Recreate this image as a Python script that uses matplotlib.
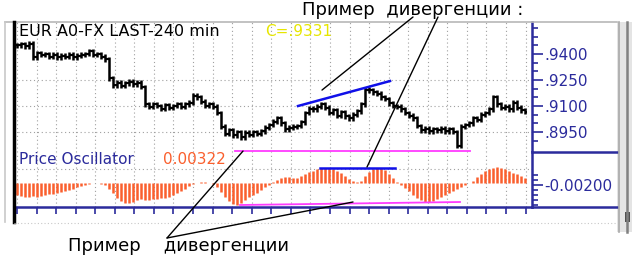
import numpy as np
import matplotlib
matplotlib.use("Agg")
import matplotlib.pyplot as plt
from matplotlib.patches import Rectangle

plt.rcParams['font.family'] = ['DejaVu Sans']

# цены закрытия по барам (в пунктах, x 1e-4), 240 мин
closes = [9450, 9455, 9445, 9460, 9380, 9405, 9395, 9400, 9385, 9395,
          9380, 9390, 9385, 9395, 9380, 9390, 9395, 9400, 9415, 9395,
          9400, 9385, 9370, 9260, 9220, 9235, 9215, 9230, 9240, 9225,
          9235, 9210, 9110, 9095, 9110, 9100, 9085, 9105, 9090, 9100,
          9110, 9095, 9110, 9120, 9160, 9150, 9125, 9100, 9110, 9095,
          9060, 8980, 8940, 8960, 8930, 8950, 8920, 8945, 8935, 8950,
          8940, 8955, 8975, 8990, 9010, 9030, 9000, 8965, 8975, 8980,
          8985, 9005, 9060, 9085, 9080, 9095, 9110, 9090, 9060, 9075,
          9045, 9065, 9040, 9030, 9050, 9070, 9110, 9195, 9190, 9180,
          9170, 9150, 9140, 9115, 9100, 9095, 9080, 9060, 9045, 9030,
          8985, 8960, 8970, 8955, 8965, 8960, 8970, 8955, 8965, 8950,
          8870, 8980, 8990, 9000, 9030, 9020, 9050, 9060, 9080, 9150,
          9110, 9090, 9095, 9080, 9120, 9090, 9075, 9065]

# Price Oscillator (x 1e-4), гистограмма от базового уровня
osc = [-40, -42, -44, -44, -42, -44, -42, -40, -38, -38,
       -36, -34, -32, -30, -28, -24, -22, -20, -18, -16,
       -16, -18, -20, -28, -36, -46, -52, -56, -56, -54,
       -50, -48, -50, -50, -48, -48, -46, -46, -44, -40,
       -36, -32, -28, -22, -18, -16, -14, -14, -16, -18,
       -24, -34, -44, -52, -58, -60, -56, -50, -44, -40,
       -36, -30, -24, -20, -14, -10, -6, -4, -4, -6,
       -6, -2, 2, 6, 8, 12, 14, 14, 14, 12,
       8, 4, -2, -8, -12, -14, -12, -2, 6, 12,
       14, 14, 10, 2, -6, -14, -20, -26, -32, -40,
       -46, -50, -54, -54, -52, -48, -44, -40, -36, -32,
       -28, -24, -20, -16, -12, -4, 2, 8, 12, 14,
       16, 14, 12, 8, 4, 2, -2, -6]
osc_base = -0.0016

price_ticks = [0.9400, 0.9250, 0.9100, 0.8950]
price_labels = ['.9400', '.9250', '.9100', '.8950']
osc_ticks = [-0.0020]
osc_labels = ['-0.00200']

# линии дивергенции: (бар, значение)
price_blue = ([70.25, 93.25], [0.9100, 0.9244])
price_pink = ([54.5, 113.25], [0.8840, 0.8840])
osc_blue = ([75.75, 94.5], [0.0014, 0.0014])
osc_pink = ([55.75, 110.75], [-0.0060, -0.0054])

W, H = 632, 259
def rect(x0, y0, x1, y1):
    return [x0 / W, 1 - y1 / H, (x1 - x0) / W, (y1 - y0) / H]

navy = '#2b2b9c'
orange = '#fa5f2d'

fig = plt.figure(figsize=(6.32, 2.59), dpi=100)
ax_p = fig.add_axes(rect(14, 22, 532, 152))
ax_o = fig.add_axes(rect(14, 152, 532, 207), sharex=ax_p)
ov = fig.add_axes([0, 0, 1, 1], zorder=5)
ov.set_xlim(0, W)
ov.set_ylim(H, 0)
ov.axis('off')
ov.patch.set_alpha(0)

n = len(closes)
x = np.arange(n)
c = np.array(closes) / 10000
o = np.r_[c[0], c[:-1]]
wick = 0.0014
hi = np.maximum(o, c) + wick
lo = np.minimum(o, c) - wick

ax_p.vlines(x, lo, hi, color='black', lw=1.8, zorder=3)
ax_p.hlines(o, x - 0.5, x, color='black', lw=1.6, zorder=3)
ax_p.hlines(c, x, x + 0.5, color='black', lw=1.6, zorder=3)

ax_p.plot(*price_blue, color='#1010e8', lw=1.8, zorder=4)
ax_p.plot(*price_pink, color='#ff3cff', lw=1.3, zorder=4)

ov_vals = np.array(osc) / 10000
ax_o.vlines(x, osc_base, ov_vals, color=orange, lw=1.8, zorder=3)
ax_o.plot(*osc_blue, color='#1010e8', lw=1.8, zorder=4)
ax_o.plot(*osc_pink, color='#ff3cff', lw=1.3, zorder=4)

ax_p.set_xlim(-0.75, 128.75)
ax_p.set_ylim(0.88346, 0.95847)
ax_o.set_ylim(-0.0064, 0.0046)

grid_x = np.arange(27) * 4.89
grid_kw = dict(color='#a0a0a0', lw=0.8, ls=(0, (1, 2.5)))
for ax in (ax_p, ax_o):
    for s in ('top', 'left', 'bottom'):
        ax.spines[s].set_visible(False)
    ax.spines['right'].set_color(navy)
    ax.spines['right'].set_linewidth(1.8)
    ax.yaxis.tick_right()
    ax.set_xticks(grid_x)
    ax.grid(axis='x', **grid_kw)
    ax.tick_params(axis='y', colors=navy, labelsize=11, length=8, width=1.2, pad=1)
    ax.tick_params(axis='y', which='minor', colors=navy, length=4, width=1.2)

ax_p.tick_params(axis='x', length=0, labelbottom=False)
ax_o.spines['bottom'].set_visible(True)
ax_o.spines['bottom'].set_color(navy)
ax_o.spines['bottom'].set_linewidth(1.8)
ax_o.tick_params(axis='x', colors=navy, length=5, width=1.2, labelbottom=False)

ax_p.set_yticks(price_ticks, price_labels)
ax_p.set_yticks(np.arange(0.8900, 0.9560, 0.005), minor=True)
for yv in price_ticks[1:]:
    ax_p.axhline(yv, **grid_kw)

ax_o.set_yticks(osc_ticks, osc_labels)
ax_o.set_yticks(np.arange(-0.0060, 0.0001, 0.001), minor=True)
ax_o.axhline(0.0012, **grid_kw)

# заголовки панелей
fig.text(19 / W, 1 - 32 / H, 'EUR A0-FX LAST-240 min', fontsize=11.5, color='black', va='center')
fig.text(265 / W, 1 - 32 / H, 'C=.9331', fontsize=11, color='#e6e600', va='center')
fig.text(19 / W, 1 - 159 / H, 'Price Oscillator', fontsize=11, color=navy, va='center')
fig.text(163 / W, 1 - 159 / H, '0.00322', fontsize=11, color=orange, va='center')

# рамка окна
ov.plot([5, 617], [22, 22], color='#b8b8b8', lw=1.2)
ov.plot([5, 5], [22, 222], color='#c8c8c8', lw=1.2)
ov.plot([14, 14], [22, 222], color='black', lw=2.5)
ov.plot([532, 617], [152, 152], color=navy, lw=1.8)
ov.plot([532, 617], [207, 207], color=navy, lw=1.8)
ov.plot([14, 617], [223, 223], color='#c8c8c8', lw=0.8, ls=(0, (1, 2)))
ov.add_patch(Rectangle((617, 22), 15, 210, facecolor='#e4e4e4', edgecolor='none'))
ov.plot([618.5, 618.5], [22, 232], color='#a8a8a8', lw=1.2)
ov.plot([627, 627], [22, 232], color='#808080', lw=1.8)
ov.add_patch(Rectangle((625, 212), 5, 10, facecolor='#505050', edgecolor='none'))

# подписи "Пример дивергенции" и указатели
fig.text(302 / W, 1 - 10 / H, 'Пример  дивергенции :', fontsize=13, color='black', va='center')
fig.text(68 / W, 1 - 246 / H, 'Пример    дивергенции', fontsize=13, color='black', va='center')

line_kw = dict(arrowstyle='-', color='black', lw=1.0, shrinkA=0, shrinkB=0)
ov.annotate('', xy=(76.25, 0.9192), xycoords=ax_p.transData,
            xytext=(413, 17), textcoords=ov.transData, arrowprops=line_kw, annotation_clip=False)
ov.annotate('', xy=(87.5, 0.0016), xycoords=ax_o.transData,
            xytext=(438, 17), textcoords=ov.transData, arrowprops=line_kw, annotation_clip=False)
ov.annotate('', xy=(56.5, 0.8840), xycoords=ax_p.transData,
            xytext=(167, 238), textcoords=ov.transData, arrowprops=line_kw, annotation_clip=False)
ov.annotate('', xy=(84, -0.0054), xycoords=ax_o.transData,
            xytext=(167, 238), textcoords=ov.transData, arrowprops=line_kw, annotation_clip=False)

fig.savefig('out.png', dpi=100)
